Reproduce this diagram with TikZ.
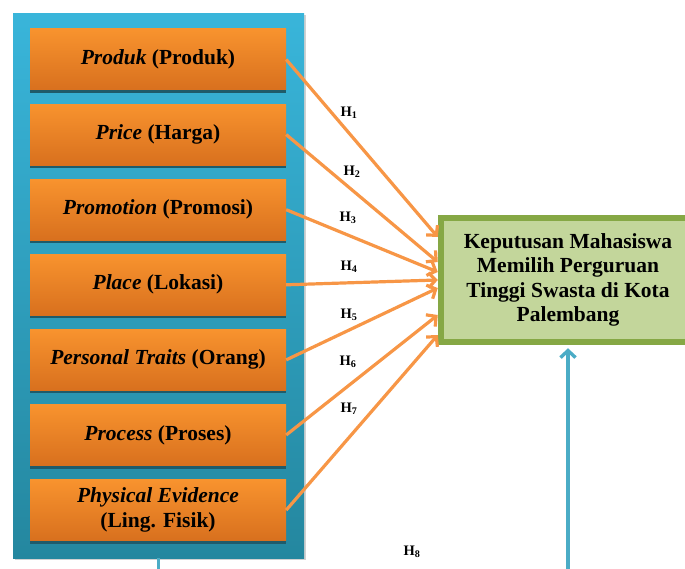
\documentclass[tikz,border=0pt]{standalone}
\usepackage{fontspec}
\setmainfont{Liberation Serif}
\usetikzlibrary{positioning,shadows,arrows.meta}

\definecolor{panelTop}{HTML}{39B5DA}
\definecolor{panelBottom}{HTML}{24879F}
\definecolor{boxTop}{HTML}{F8932E}
\definecolor{boxBottom}{HTML}{D8701E}
\definecolor{boxShadow}{HTML}{1F5B6A}
\definecolor{goalFill}{HTML}{C3D69B}
\definecolor{goalLine}{HTML}{86A845}
\definecolor{hypLine}{HTML}{F79646}
\definecolor{linkLine}{HTML}{4BACC6}

\begin{document}
\begin{tikzpicture}[x=1pt,y=-1pt,
    factor/.style={rectangle, minimum width=256pt, minimum height=61pt,
        top color=boxTop, bottom color=boxBottom, align=center,
        font=\bfseries\fontsize{21.5}{25}\selectfont,
        drop shadow={shadow xshift=0pt, shadow yshift=-3pt, fill=boxShadow, opacity=1}},
    hyp/.style={draw=hypLine, line width=3.2pt, -{Straight Barb[length=7pt,width=15pt]}},
    hlabel/.style={font=\bfseries\fontsize{14.5}{16}\selectfont},
    link/.style={draw=linkLine, line width=3.4pt}]
    \useasboundingbox (0,0) rectangle (685,569);
    % left panel with the seven factors
    \node (panel) [rectangle, minimum width=291pt, minimum height=544pt,
        top color=panelTop, bottom color=panelBottom,
        drop shadow={shadow xshift=1.5pt, shadow yshift=-1.5pt, fill=black!30, opacity=.6}]
        at (158.5,286) {};
    \node (produk) [factor] at (158,59.5) {\textit{Produk} (Produk)};
    \node (price) [factor, below=13.7pt of produk] {\textit{Price} (Harga)};
    \node (promotion) [factor, below=13.7pt of price] {\textit{Promotion} (Promosi)};
    \node (place) [factor, below=13.7pt of promotion] {\textit{Place} (Lokasi)};
    \node (people) [factor, below=13.7pt of place] {\textit{Personal Traits} (Orang)};
    \node (process) [factor, below=13.7pt of people] {\textit{Process} (Proses)};
    \node (physical) [factor, below=13.7pt of process] {\textit{Physical Evidence}\\(Ling. Fisik)};
    % dependent variable
    \node (keputusan) [rectangle, minimum width=254pt, minimum height=124pt,
        fill=goalFill, draw=goalLine, line width=6.5pt, align=center,
        font=\bfseries\fontsize{21.5}{24.5}\selectfont] at (568,280)
        {Keputusan Mahasiswa\\Memilih Perguruan\\Tinggi Swasta di Kota\\Palembang};
    % hypotheses
    \draw [hyp] (produk.east) -- ([yshift=43pt]keputusan.west);
    \draw [hyp] (price.east) -- ([yshift=18pt]keputusan.west);
    \draw [hyp] (promotion.east) -- ([yshift=8pt]keputusan.west);
    \draw [hyp] (place.east) -- (keputusan.west);
    \draw [hyp] (people.east) -- ([yshift=-8pt]keputusan.west);
    \draw [hyp] (process.east) -- ([yshift=-35pt]keputusan.west);
    \draw [hyp] (physical.east) -- ([yshift=-55pt]keputusan.west);
    \node (h1) [hlabel] at (349,113) {H\textsubscript{1}};
    \node (h2) [hlabel] at (352,172) {H\textsubscript{2}};
    \node (h3) [hlabel] at (348,218) {H\textsubscript{3}};
    \node (h4) [hlabel] at (349,267) {H\textsubscript{4}};
    \node (h5) [hlabel] at (349,315) {H\textsubscript{5}};
    \node (h6) [hlabel] at (348,362) {H\textsubscript{6}};
    \node (h7) [hlabel] at (349,409) {H\textsubscript{7}};
    \node (h8) [hlabel] at (412,552) {H\textsubscript{8}};
    % simultaneous effect
    \coordinate (stubend) at (panel.south |- 0,575);
    \coordinate (h8start) at (keputusan.south |- 0,575);
    \draw [link] (panel.south) -- (stubend);
    \draw [link, -{Straight Barb[length=7pt,width=15pt]}, shorten >=3pt] (h8start) -- (keputusan.south);
\end{tikzpicture}
\end{document}
